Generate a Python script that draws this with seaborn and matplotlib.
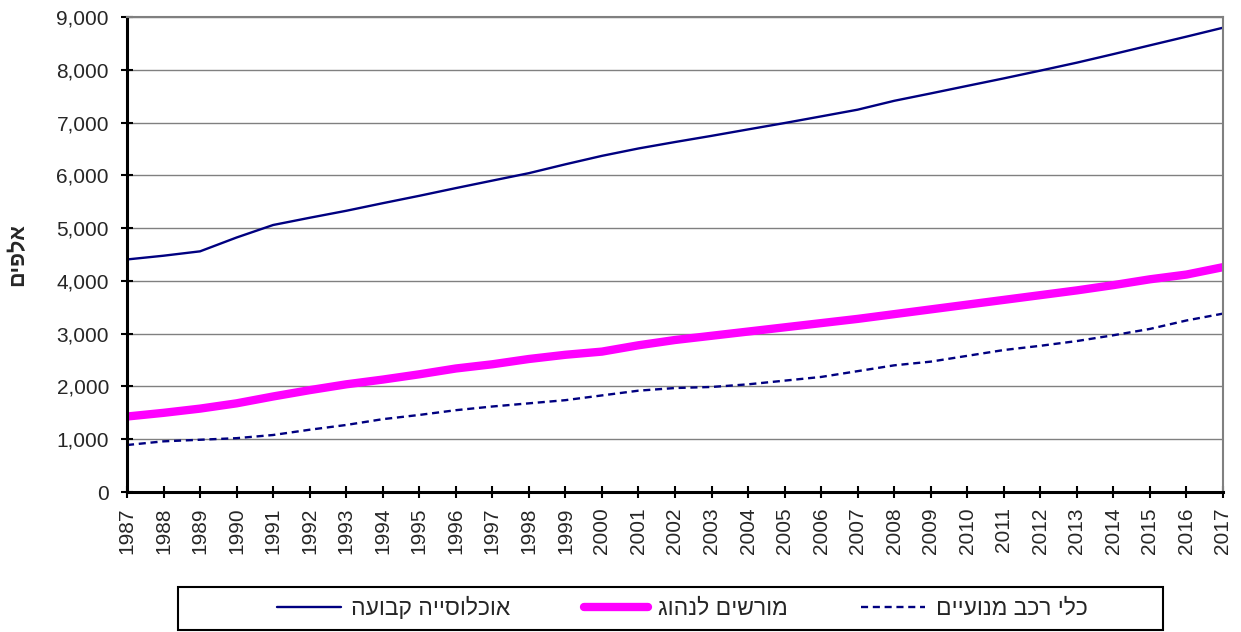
import numpy as np
import pandas as pd
import matplotlib
matplotlib.use("Agg")
import matplotlib.pyplot as plt
from matplotlib.patches import Rectangle
import seaborn as sns

sns.set_theme(style="white")
plt.rcParams['font.family'] = ['Liberation Sans', 'DejaVu Sans']

# data (thousands)
years = list(range(1987, 2018))
population = [4406, 4477, 4560, 4822, 5059, 5196, 5328, 5472, 5612, 5758,
              5900, 6041, 6209, 6369, 6509, 6631, 6748, 6870, 6991, 7117,
              7244, 7412, 7552, 7695, 7837, 7984, 8135, 8297, 8463, 8628, 8797]
drivers = [1430, 1500, 1580, 1680, 1810, 1930, 2040, 2130, 2230, 2340,
           2420, 2520, 2600, 2660, 2780, 2880, 2960, 3040, 3120, 3200,
           3280, 3370, 3460, 3550, 3640, 3730, 3820, 3920, 4030, 4120, 4260]
vehicles = [890, 960, 990, 1020, 1080, 1180, 1270, 1380, 1460, 1550,
            1620, 1680, 1740, 1830, 1920, 1970, 1990, 2040, 2110, 2180,
            2290, 2400, 2470, 2580, 2690, 2770, 2860, 2970, 3090, 3250, 3380]

names = ["אוכלוסייה קבועה", "מורשים לנהוג", "כלי רכב מנועיים"]
ylabel = "אלפים"


def rtl(s):
    # matplotlib has no bidi support, so flip Hebrew for display
    return s[::-1]


df = pd.DataFrame({"year": years, "pop": population, "drv": drivers, "veh": vehicles})

W, H = 1241, 632
fig = plt.figure(figsize=(W / 100, H / 100), dpi=100)
ax = fig.add_axes([127 / W, 1 - 492 / H, 1096 / W, 475 / H])

sns.lineplot(data=df, x="year", y="pop", ax=ax, color="#000080", lw=1.7,
             label=rtl(names[0]))
sns.lineplot(data=df, x="year", y="drv", ax=ax, color="#FF00FF", lw=6,
             solid_capstyle="round", label=rtl(names[1]))
sns.lineplot(data=df, x="year", y="veh", ax=ax, color="#000080", lw=1.7,
             dashes=(3, 2), label=rtl(names[2]))

ax.set_xlim(1987, 2017)
ax.set_ylim(0, 9000)
ax.set_xticks(years)
ax.set_xticklabels([str(y) for y in years], rotation=90, fontsize=15)
ax.set_yticks(np.arange(0, 9001, 1000))
ax.set_yticklabels([f"{v:,}" for v in range(0, 9001, 1000)], fontsize=15)
ax.set_xlabel("")
ax.set_ylabel(rtl(ylabel), fontsize=15.5, fontweight="bold")
ax.yaxis.set_label_coords((28 - 127) / 1096, 0.5)

ax.grid(axis="y", color="#808080", lw=1)
ax.set_axisbelow(True)
ax.tick_params(axis="both", direction="inout", length=8, width=1.5,
               color="black", bottom=True, left=True)
ax.tick_params(axis="y", pad=9)
ax.tick_params(axis="x", pad=7)
for side in ["left", "bottom"]:
    ax.spines[side].set_color("black")
    ax.spines[side].set_linewidth(2.2)
for side in ["top", "right"]:
    ax.spines[side].set_color("#808080")
    ax.spines[side].set_linewidth(1.5)

handles, labels = ax.get_legend_handles_labels()
ax.get_legend().remove()
fig.legend(handles, labels, loc="center", ncol=3,
           bbox_to_anchor=(682 / W, 1 - 608 / H),
           fontsize=16.5, frameon=False, handlelength=2.8, handletextpad=0.45,
           columnspacing=3.2)
# legend box drawn separately so it spans the full width like the original
fig.add_artist(Rectangle((178 / W, 1 - 630 / H), 985 / W, 43 / H,
                         transform=fig.transFigure, fill=False,
                         edgecolor="black", lw=1.5))

fig.savefig("out.png", dpi=100)
